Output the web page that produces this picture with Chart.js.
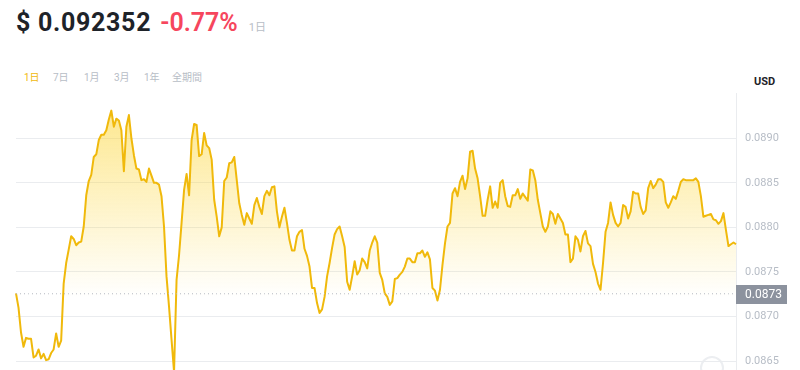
<!DOCTYPE html>
<html>
<head>
<meta charset="utf-8">
<script src="https://cdn.jsdelivr.net/npm/chart.js@4.4.1/dist/chart.umd.min.js"></script>
<style>
    html, body {
        margin: 0;
        padding: 0;
        width: 800px;
        height: 370px;
        overflow: hidden;
        background: #ffffff;
        font-family: Roboto, "Noto Sans CJK JP", sans-serif;
    }
    .head {
        position: absolute;
        left: 16px;
        top: 8px;
        white-space: nowrap;
    }
    .price {
        font-size: 25px;
        font-weight: 700;
        color: #1e2329;
        letter-spacing: 0.7px;
    }
    .change {
        font-size: 25px;
        font-weight: 600;
        color: #f6465d;
        margin-left: 9px;
    }
    .period {
        font-size: 11px;
        color: #b7bdc6;
        margin-left: 11px;
    }
    .tab {
        position: absolute;
        top: 69px;
        font-size: 10px;
        color: #b7bdc6;
    }
    .tab.active { color: #f0b90b; }
    .unit {
        position: absolute;
        left: 754px;
        top: 75px;
        font-size: 11px;
        font-weight: 700;
        color: #1e2329;
    }
    .chart-box {
        position: absolute;
        left: 0;
        top: 93px;
        width: 800px;
        height: 297px;
    }
    .mark {
        position: absolute;
        left: 700px;
        top: 356px;
        width: 20px;
        height: 20px;
        border: 2px solid #eceef1;
        border-radius: 50%;
    }
</style>
</head>
<body>

<div class="head">
    <span class="price">$ 0.092352</span><span class="change">-0.77%</span><span class="period">1日</span>
</div>

<div class="tab active" style="left:24px">1日</div>
<div class="tab" style="left:53px">7日</div>
<div class="tab" style="left:84px">1月</div>
<div class="tab" style="left:114px">3月</div>
<div class="tab" style="left:144px">1年</div>
<div class="tab" style="left:172px">全期間</div>

<div class="unit">USD</div>
<div class="mark"></div>

<div class="chart-box">
    <canvas id="priceChart"></canvas>
</div>

<script>
// 5-minute closes over the last day
const prices = [
    0.08726, 0.08710, 0.08682, 0.08666, 0.08676, 0.08675, 0.08675, 0.08654, 0.08656, 0.08663,
    0.08653, 0.08658, 0.08651, 0.08652, 0.08659, 0.08663, 0.08681, 0.08666, 0.08673, 0.08737,
    0.08760, 0.08775, 0.08790, 0.08787, 0.08780, 0.08783, 0.08784, 0.08801, 0.08836, 0.08852,
    0.08859, 0.08879, 0.08882, 0.08898, 0.08904, 0.08904, 0.08909, 0.08921, 0.08931, 0.08913,
    0.08922, 0.08920, 0.08909, 0.08863, 0.08913, 0.08926, 0.08900, 0.08881, 0.08866, 0.08865,
    0.08853, 0.08854, 0.08851, 0.08866, 0.08858, 0.08850, 0.08850, 0.08848, 0.08835, 0.08801,
    0.08745, 0.08711, 0.08674, 0.08638, 0.08741, 0.08769, 0.08805, 0.08842, 0.08860, 0.08836,
    0.08898, 0.08916, 0.08915, 0.08880, 0.08882, 0.08906, 0.08892, 0.08889, 0.08876, 0.08831,
    0.08812, 0.08790, 0.08800, 0.08852, 0.08856, 0.08872, 0.08873, 0.08879, 0.08853, 0.08827,
    0.08814, 0.08803, 0.08816, 0.08810, 0.08804, 0.08825, 0.08833, 0.08823,
    0.08815, 0.08835, 0.08841, 0.08836, 0.08845, 0.08846, 0.08818, 0.08800, 0.08812, 0.08822,
    0.08805, 0.08786, 0.08774, 0.08774, 0.08790, 0.08795, 0.08797, 0.08776, 0.08768, 0.08756,
    0.08732, 0.08732, 0.08715, 0.08704, 0.08708, 0.08722, 0.08745, 0.08760, 0.08777, 0.08792,
    0.08798, 0.08801, 0.08790, 0.08778, 0.08739, 0.08730, 0.08745, 0.08762, 0.08747, 0.08752,
    0.08765, 0.08761, 0.08754, 0.08774, 0.08783, 0.08790, 0.08783, 0.08749, 0.08741, 0.08726,
    0.08722, 0.08713, 0.08717, 0.08742, 0.08743, 0.08747, 0.08750, 0.08756, 0.08765, 0.08765,
    0.08761, 0.08761, 0.08771, 0.08771, 0.08774, 0.08767, 0.08772, 0.08764, 0.08732, 0.08729,
    0.08718, 0.08730, 0.08758, 0.08782, 0.08801, 0.08805, 0.08838, 0.08844, 0.08835, 0.08851,
    0.08858, 0.08843, 0.08855, 0.08885, 0.08886, 0.08866, 0.08855, 0.08835,
    0.08813, 0.08813, 0.08831, 0.08846, 0.08822, 0.08829, 0.08822, 0.08850, 0.08853, 0.08835,
    0.08824, 0.08823, 0.08836, 0.08836, 0.08843, 0.08832, 0.08838, 0.08834, 0.08830, 0.08865,
    0.08864, 0.08853, 0.08831, 0.08816, 0.08801, 0.08795, 0.08801, 0.08818, 0.08815, 0.08804,
    0.08815, 0.08810, 0.08805, 0.08792, 0.08792, 0.08761, 0.08765, 0.08790, 0.08786, 0.08773,
    0.08790, 0.08796, 0.08782, 0.08779, 0.08759, 0.08750, 0.08737, 0.08730, 0.08760, 0.08795,
    0.08805, 0.08828, 0.08814, 0.08805, 0.08801, 0.08805, 0.08825, 0.08823, 0.08810, 0.08818,
    0.08840, 0.08838, 0.08838, 0.08823, 0.08815, 0.08819, 0.08844, 0.08852, 0.08844, 0.08848,
    0.08854, 0.08854, 0.08851, 0.08828, 0.08822, 0.08828, 0.08835, 0.08832, 0.08841, 0.08851,
    0.08854, 0.08853, 0.08853, 0.08853, 0.08853, 0.08855, 0.08851, 0.08835, 0.08812, 0.08813,
    0.08814, 0.08815, 0.08809, 0.08808, 0.08804, 0.08807, 0.08816, 0.08797, 0.08779, 0.08781,
    0.08783, 0.08781
];

const openPrice = 0.087255;
const yTicks = [0.0865, 0.0870, 0.0875, 0.0880, 0.0885, 0.0890];
const yMin = 0.086175;
const yMax = 0.089508;

const labels = prices.map((_, i) => i);

/* ==============================
   PLUGINS
================================= */

// grey tag for the reference price on the right axis
const openTag = {
    id: 'openTag',
    afterDraw(chart) {
        const { ctx, chartArea } = chart;
        const y = chart.scales.y.getPixelForValue(openPrice);
        ctx.save();
        ctx.fillStyle = '#8c929e';
        ctx.fillRect(chartArea.right, Math.round(y) - 9, 51, 19);
        ctx.fillStyle = '#ffffff';
        ctx.font = '12px Roboto';
        ctx.textBaseline = 'middle';
        ctx.fillText(openPrice.toFixed(4), chartArea.right + 9, Math.round(y) + 0.5);
        ctx.restore();
    }
};

/* ==============================
   CHART
================================= */

const ctx = document.getElementById('priceChart').getContext('2d');

new Chart(ctx, {
    type: 'line',
    data: {
        labels: labels,
        datasets: [
            {
                data: labels.map(() => openPrice),
                borderColor: '#b5b9c0',
                borderWidth: 1,
                borderDash: [1, 3],
                pointRadius: 0,
                fill: false,
                order: 0
            },
            {
                data: prices,
                borderColor: '#f0b90b',
                borderWidth: 2,
                borderJoinStyle: 'round',
                tension: 0,
                pointRadius: 0,
                fill: 'start',
                order: 1,
                backgroundColor: (context) => {
                    const area = context.chart.chartArea;
                    if (!area) return 'rgba(252, 213, 53, 0.5)';
                    const g = context.chart.ctx.createLinearGradient(0, area.top, 0, area.top + 205);
                    g.addColorStop(0, 'rgba(252, 213, 53, 0.6)');
                    g.addColorStop(1, 'rgba(252, 213, 53, 0)');
                    return g;
                }
            }
        ]
    },
    options: {
        responsive: true,
        maintainAspectRatio: false,
        animation: false,
        layout: { padding: { left: 16, top: 0, right: 0, bottom: 0 } },
        plugins: {
            legend: { display: false },
            tooltip: { enabled: false }
        },
        scales: {
            x: {
                type: 'category',
                display: false,
                offset: false
            },
            y: {
                position: 'right',
                min: yMin,
                max: yMax,
                afterBuildTicks: (scale) => {
                    scale.ticks = yTicks.map(v => ({ value: v }));
                },
                afterFit: (scale) => {
                    scale.width = 64;
                    scale.paddingTop = 0;
                    scale.paddingBottom = 0;
                },
                grid: {
                    color: '#eaecef',
                    drawTicks: false
                },
                border: {
                    display: true,
                    color: '#eaecef'
                },
                ticks: {
                    padding: 9,
                    color: '#b7bdc6',
                    font: { family: 'Roboto', size: 11 },
                    callback: (v) => Number(v).toFixed(4)
                }
            }
        }
    },
    plugins: [openTag]
});
</script>
</body>
</html>
